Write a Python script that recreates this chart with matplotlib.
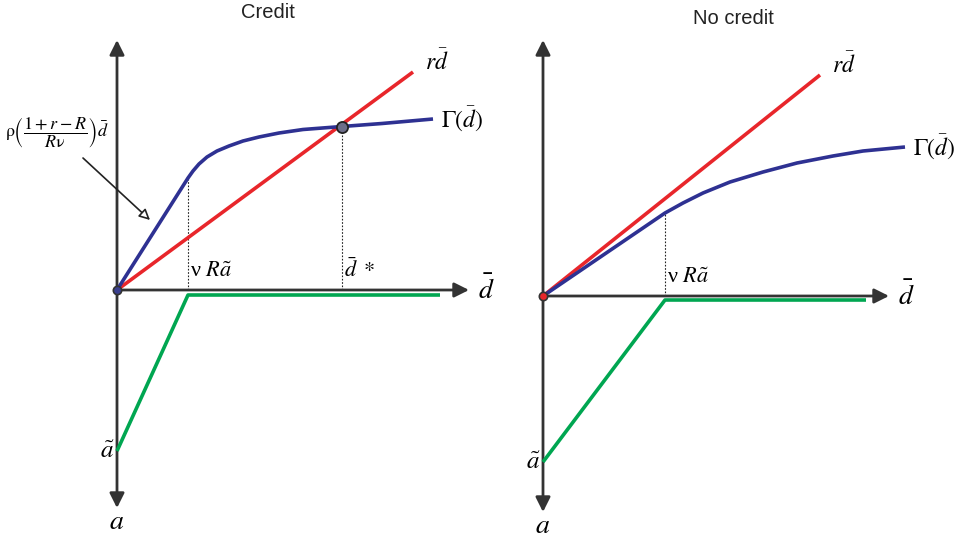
import matplotlib
matplotlib.use("Agg")
import matplotlib.pyplot as plt
import numpy as np

plt.rcParams['mathtext.fontset'] = 'stix'
plt.rcParams['font.family'] = ['Liberation Sans', 'DejaVu Sans']

RED = '#e8262b'
BLUE = '#2e3192'
GREEN = '#00a651'
AX = '#333333'

# ---------------- data (conceptual units, origin at 0) ----------------
# Credit panel
credit_rd_d = [0.0, 2.96]
credit_rd_y = [0.0, 2.18]
credit_gamma_d = [0.0, 0.71, 0.76, 0.82, 0.90, 1.00, 1.12, 1.26, 1.42, 1.62, 1.86, 2.25, 2.65, 3.16]
credit_gamma_y = [0.0, 1.12, 1.19, 1.26, 1.33, 1.39, 1.44, 1.49, 1.53, 1.57, 1.605, 1.635, 1.665, 1.71]
credit_kink = 0.71
credit_dstar = 2.25
credit_atilde = -1.61
credit_green_d = [0.0, 0.71, 3.23]
credit_green_y = [-1.61, -0.05, -0.05]

# No-credit panel
nc_rd_d = [0.0, 2.77]
nc_rd_y = [0.0, 2.21]
nc_gamma_d = [0.0, 1.22, 1.40, 1.60, 1.87, 2.20, 2.54, 2.90, 3.20, 3.62]
nc_gamma_y = [0.0, 0.83, 0.93, 1.03, 1.14, 1.24, 1.33, 1.40, 1.45, 1.49]
nc_kink = 1.22
nc_atilde = -1.66
nc_green_d = [0.0, 1.22, 3.23]
nc_green_y = [-1.66, -0.04, -0.04]

W, H = 959, 539
fig = plt.figure(figsize=(W / 100, H / 100), dpi=100)

ax1 = fig.add_axes([0, 0, 0.5, 1])
ax2 = fig.add_axes([0.5, 0, 0.5, 1])
ax1.set_xlim(-1.17, 3.625); ax1.set_ylim(-2.49, 2.90)
ax2.set_xlim(-0.635, 4.16); ax2.set_ylim(-2.43, 2.96)
for ax in (ax1, ax2):
    ax.set_axis_off()

SERIF = ['Liberation Serif', 'DejaVu Serif']


def axes_arrows(ax, ytop, ybot, xend):
    ax.annotate('', xy=(0, ytop), xytext=(0, ybot),
                arrowprops=dict(arrowstyle='<|-|>', color=AX, lw=2.0,
                                mutation_scale=22, shrinkA=0, shrinkB=0))
    ax.annotate('', xy=(xend, 0), xytext=(0, 0),
                arrowprops=dict(arrowstyle='-|>', color=AX, lw=2.0,
                                mutation_scale=22, shrinkA=0, shrinkB=0))


def panel(ax, rd_d, rd_y, g_d, g_y, kink, gr_d, gr_y, atilde, ytop, ybot, xend, title, title_x, origin_fc):
    axes_arrows(ax, ytop, ybot, xend)
    kink_y = np.interp(kink, g_d, g_y)
    ax.plot([kink, kink], [0, kink_y], color='#222222', lw=0.8, ls=(0, (1.5, 1.5)), zorder=2)
    ax.plot(gr_d, gr_y, color=GREEN, lw=2.6, solid_capstyle='butt', zorder=3)
    ax.plot(rd_d, rd_y, color=RED, lw=2.6, solid_capstyle='butt', zorder=3)
    ax.plot(g_d, g_y, color=BLUE, lw=2.6, solid_capstyle='butt', solid_joinstyle='round', zorder=4)
    ax.plot([0], [0], 'o', ms=6, mfc=origin_fc, mec='#333333', mew=1.2, zorder=6)
    ax.text(rd_d[-1] + 0.12, rd_y[-1] + 0.10, r'$r\bar{d}$', fontsize=17, ha='left', va='center')
    ax.text(g_d[-1] + 0.08, g_y[-1], r'$\Gamma(\bar{d})$', fontsize=17, ha='left', va='center')
    ax.text(xend + 0.09, 0.0, r'$\bar{d}$', fontsize=20, ha='left', va='center')
    ax.text(kink + 0.02, 0.08, r'ν $R\tilde{a}$', fontsize=16, ha='left', va='bottom', family=SERIF)
    ax.text(-0.03, atilde, r'$\tilde{a}$', fontsize=18, ha='right', va='center')
    ax.text(0.0, ybot - 0.14, r'$a$', fontsize=20, ha='center', va='center')
    ax.text(title_x, 2.78, title, fontsize=14.5, ha='center', va='center', color='#222222')
    return kink_y


panel(ax1, credit_rd_d, credit_rd_y, credit_gamma_d, credit_gamma_y, credit_kink,
      credit_green_d, credit_green_y, credit_atilde, 2.50, -2.18, 3.52, 'Credit', 1.51, '#3a3f8f')
panel(ax2, nc_rd_d, nc_rd_y, nc_gamma_d, nc_gamma_y, nc_kink,
      nc_green_d, nc_green_y, nc_atilde, 2.56, -2.16, 3.46, 'No credit', 1.9, RED)

# d* on credit panel
dstar_y = np.interp(credit_dstar, credit_gamma_d, credit_gamma_y)
ax1.plot([credit_dstar, credit_dstar], [0, dstar_y], color='#222222', lw=0.8, ls=(0, (1.5, 1.5)), zorder=2)
ax1.plot([credit_dstar], [dstar_y], 'o', ms=8, mfc='#6d6e8a', mec='#222222', mew=1.3, zorder=6)
ax1.text(credit_dstar + 0.02, 0.08, r'$\bar{d}\ *$', fontsize=16, ha='left', va='bottom')

# formula annotation
ax1.text(-0.60, 1.57, r'$\mathrm{ρ}\left(\dfrac{1+r-R}{R\mathrm{ν}}\right)\bar{d}$',
         fontsize=13, ha='center', va='center', family=SERIF)
ax1.annotate('', xy=(0.33, 0.70), xytext=(-0.34, 1.32),
             arrowprops=dict(arrowstyle='-|>', fc='white', ec='#222222', lw=1.2,
                             mutation_scale=16, shrinkA=0, shrinkB=0))

fig.savefig('out.png', dpi=100)
